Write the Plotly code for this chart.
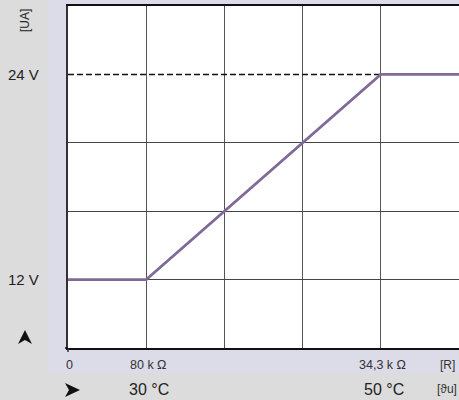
import plotly.graph_objects as go

# ---- data ----
# x positions are in grid-column units (0..5); y values in volts
line_x = [0, 1, 4, 5]
line_v = [12, 12, 24, 24]
dash_x = [0, 4]
dash_v = [24, 24]

volt_ticks = [12, 24]
volt_labels = ["12 V", "24 V"]
res_pos = [0, 1, 4]
res_labels = ["0", "80 k Ω", "34,3 k Ω"]
temp_pos = [1, 4]
temp_labels = ["30 °C", "50 °C"]

W, H = 459, 400
L, R, T, B = 68, 0, 6, 52
PW, PH = W - L - R, H - T - B

def px(x):
    return (x - L) / PW

def py(y):
    return (H - B - y) / PH

def path(pts):
    return "M " + " L ".join(f"{px(a):.5f},{py(b):.5f}" for a, b in pts) + " Z"

FONT = "Liberation Sans"
TXT = "#222222"

fig = go.Figure()
fig.add_trace(go.Scatter(x=dash_x, y=dash_v, mode="lines",
                         line=dict(color="#111111", width=1.5, dash="6px,3px"),
                         hoverinfo="skip", showlegend=False))
fig.add_trace(go.Scatter(x=line_x, y=line_v, mode="lines",
                         line=dict(color="#806b98", width=2.6),
                         hoverinfo="skip", showlegend=False, cliponaxis=False))

fig.update_xaxes(range=[0, 5], tickvals=[1, 2, 3, 4], showticklabels=False,
                 showgrid=True, gridcolor="#555555", gridwidth=1.2,
                 showline=True, linecolor="#111111", linewidth=1.5, mirror=True,
                 zeroline=False, ticks="", fixedrange=True)
fig.update_yaxes(range=[8, 28], tickvals=[12, 16, 20], showticklabels=False,
                 showgrid=True, gridcolor="#444444", gridwidth=1.2,
                 showline=True, linecolor="#333333", linewidth=1.6,
                 zeroline=False, ticks="", fixedrange=True)

shapes = [
    dict(type="rect", xref="paper", yref="paper", x0=px(-5), x1=px(48), y0=py(405), y1=py(-5),
         fillcolor="#dcdcdc", line=dict(width=0), layer="below"),
    dict(type="rect", xref="paper", yref="paper", x0=px(-5), x1=px(465), y0=py(405), y1=py(373),
         fillcolor="#dcdcdc", line=dict(width=0), layer="below"),
    # small axis overhangs at origin
    dict(type="line", xref="paper", yref="paper", x0=0, x1=0, y0=0, y1=py(352),
         line=dict(color="#333333", width=1.5)),
    dict(type="line", xref="paper", yref="paper", x0=px(65), x1=0, y0=0, y1=0,
         line=dict(color="#111111", width=1.5)),
    # arrowheads
    dict(type="path", xref="paper", yref="paper",
         path=path([(25, 330), (32, 344), (25, 340), (18, 344)]),
         fillcolor="#111111", line=dict(width=0)),
    dict(type="path", xref="paper", yref="paper",
         path=path([(80, 390), (65, 383), (69, 390), (65, 397)]),
         fillcolor="#111111", line=dict(width=0)),
]

def A(x, y, text, size, xref="paper", yref="paper", color=TXT, **kw):
    d = dict(x=x, y=y, xref=xref, yref=yref, text=text, showarrow=False,
             xanchor="center", yanchor="middle",
             font=dict(size=size, color=color, family=FONT))
    d.update(kw)
    return d

ann = []
for v, lab in zip(volt_ticks, volt_labels):
    ann.append(A(px(41), v, lab, 15, yref="y", xanchor="right"))
ann.append(A(px(25), py(21), "[UA]", 12, textangle=-90))
for xv, lab in zip(res_pos, res_labels):
    ann.append(A(xv, py(365), lab, 12.5, xref="x", color="#333333",
                 xshift=1 if xv == 0 else 2))
ann.append(A(px(447), py(365), "[R]", 12, color="#333333"))
for xv, lab in zip(temp_pos, temp_labels):
    ann.append(A(xv, py(389), lab, 16, xref="x", xshift=3))
ann.append(A(px(447), py(389), "[ϑu]", 12, color="#333333"))

fig.update_layout(width=W, height=H, margin=dict(l=L, r=R, t=T, b=B),
                  paper_bgcolor="#dcdbe8", plot_bgcolor="#ffffff",
                  shapes=shapes, annotations=ann, showlegend=False)

fig.write_html("out.html", config={"displayModeBar": False},
               post_script="document.body.style.margin='0';document.body.style.padding='0';")
